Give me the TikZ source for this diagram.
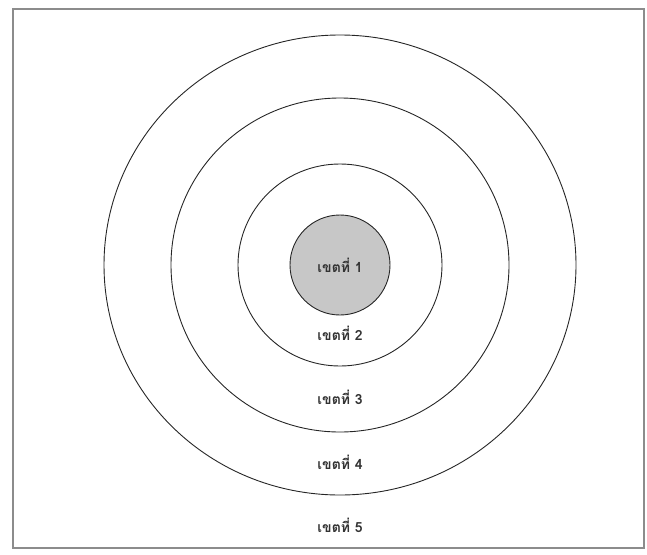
\documentclass[tikz,border=0pt]{standalone}
\usepackage{fontspec}
\newfontfamily\thaifont[Script=Thai]{Loma}
\usetikzlibrary{positioning}

\begin{document}
\begin{tikzpicture}[
        x=1pt, y=-1pt,
        ring/.style={draw=black!85, line width=0.9pt},
        zone/.style={font=\thaifont\bfseries\fontsize{14}{16}\selectfont, text=black!80, inner sep=1pt},
        frame/.style={draw=black!45, line width=1.6pt}
    ]
        \useasboundingbox (0,0) rectangle (647,554);
        % Frame
        \draw[frame] (13,9) rectangle (644,548);

        % Rings
        \coordinate (c) at (340,265);
        \draw[ring] (c) ellipse [x radius=236, y radius=230];
        \draw[ring] (c) ellipse [x radius=169, y radius=167];
        \draw[ring] (c) ellipse [x radius=102, y radius=101];
        \draw[ring, fill=black!22] (c) circle [radius=50];

        % Zones
        \node[zone] (z1) at (c) {เขตที่ 1};
        \node[zone] (z2) at (340,333) {เขตที่ 2};
        \node[zone] (z3) at (340,397) {เขตที่ 3};
        \node[zone] (z4) at (340,462) {เขตที่ 4};
        \node[zone] (z5) at (340,525) {เขตที่ 5};
    \end{tikzpicture}
\end{document}
